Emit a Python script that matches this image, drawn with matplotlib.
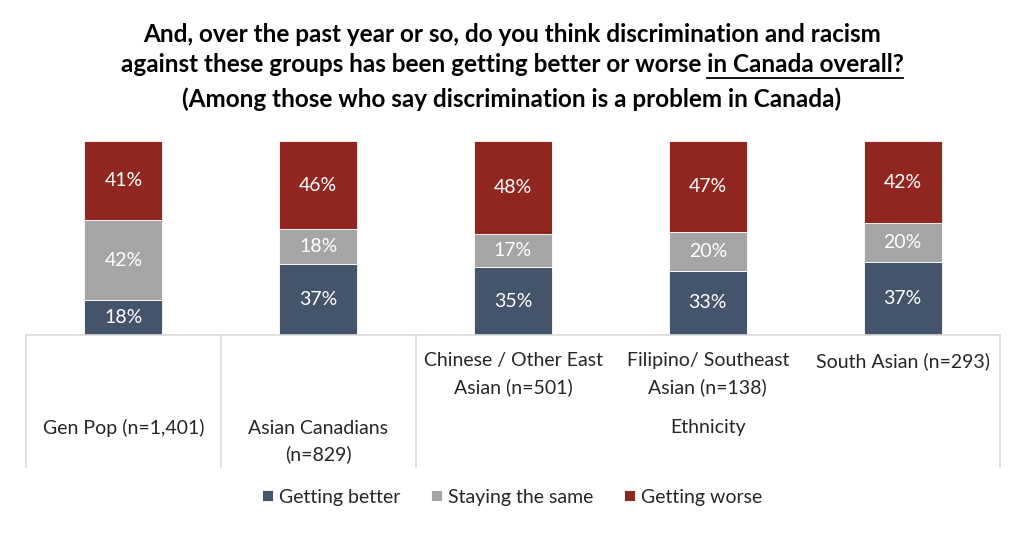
import matplotlib.pyplot as plt
import matplotlib.transforms as mtransforms
import numpy as np

plt.rcParams['font.family'] = ['Lato', 'DejaVu Sans']

groups = ["Gen Pop (n=1,401)", "Asian Canadians\n(n=829)",
          "Chinese / Other East\nAsian (n=501)", "Filipino/ Southeast\nAsian (n=138)",
          "South Asian (n=293)"]
better = np.array([18, 37, 35, 33, 37])
same = np.array([42, 18, 17, 20, 20])
worse = np.array([41, 46, 48, 47, 42])
series_names = ["Getting better", "Staying the same", "Getting worse"]
colors = ["#44546A", "#A5A5A5", "#912621"]

# 100% stacked, like the Excel original
total = better + same + worse
parts = [better / total * 100, same / total * 100, worse / total * 100]
raw = [better, same, worse]

fig = plt.figure(figsize=(10.24, 5.33), dpi=100)
ax = fig.add_axes([26 / 1024, 198 / 533, 974 / 1024, 194 / 533])

x = np.arange(len(groups))
bottom = np.zeros(len(groups))
handles = []
for vals, lab, vals_raw, c in zip(parts, series_names, raw, colors):
    b = ax.bar(x, vals, 0.4, bottom=bottom, color=c, label=lab,
               edgecolor="white", linewidth=0.6)
    handles.append(b)
    for xi, v, bt, r in zip(x, vals, bottom, vals_raw):
        ax.text(xi, bt + v / 2, f"{r}%", ha="center", va="center",
                color="white", fontsize=14)
    bottom += vals

ax.set_xlim(-0.5, len(groups) - 0.5)
ax.set_ylim(0, 100)
ax.set_yticks([])
ax.set_xticks([])
for s in ["top", "left", "right"]:
    ax.spines[s].set_visible(False)
ax.spines["bottom"].set_color("#D9D9D9")
ax.spines["bottom"].set_linewidth(1.2)

# table-like category axis
trans = mtransforms.blended_transform_factory(ax.transData, ax.transAxes)
line_bottom = -(467 - 335) / 194
for xv in [-0.5, 0.5, 1.5, 4.5]:
    ax.plot([xv, xv], [0, line_bottom], color="#D9D9D9", lw=1.2,
            transform=trans, clip_on=False)

label_y = [-0.479, -0.55, -0.201, -0.201, -0.134]
for xi, g, ly in zip(x, groups, label_y):
    ax.text(xi, ly, g, ha="center", va="center", fontsize=14,
            color="#262626", transform=trans, linespacing=1.6)
ax.text(3, -0.479, "Ethnicity", ha="center", va="center", fontsize=14,
        color="#262626", transform=trans)

# title with underlined part
title1 = "And, over the past year or so, do you think discrimination and racism"
title2 = "against these groups has been getting better or worse in Canada overall?"
title2_u = "in Canada overall?"
title3 = "(Among those who say discrimination is a problem in Canada)"
fs = 17.5
fig.text(0.5, 1 - 35 / 533, title1, ha="center", va="center", fontsize=fs, fontweight="bold")
t2 = fig.text(0.5, 1 - 64 / 533, title2, ha="center", va="center", fontsize=fs, fontweight="bold")
fig.text(0.5, 1 - 99 / 533, title3, ha="center", va="center", fontsize=fs, fontweight="bold")

fig.canvas.draw()
r = fig.canvas.get_renderer()
bb = t2.get_window_extent(r)
tmp = fig.text(0, 0, title2_u, fontsize=fs, fontweight="bold")
wu = tmp.get_window_extent(r).width
tmp.remove()
uy = 1 - 77.5 / 533
fig.add_artist(plt.Line2D([(bb.x1 - wu) / 1024, bb.x1 / 1024], [uy, uy],
                          color="black", lw=1.3))

fig.legend(handles=handles, labels=series_names, loc="center",
           bbox_to_anchor=(0.5, 1 - 497 / 533), ncol=3, frameon=False,
           handlelength=0.55, handleheight=0.55, handletextpad=0.3,
           columnspacing=1.6, fontsize=14, labelcolor="#262626")

fig.savefig("out.png", dpi=100)
